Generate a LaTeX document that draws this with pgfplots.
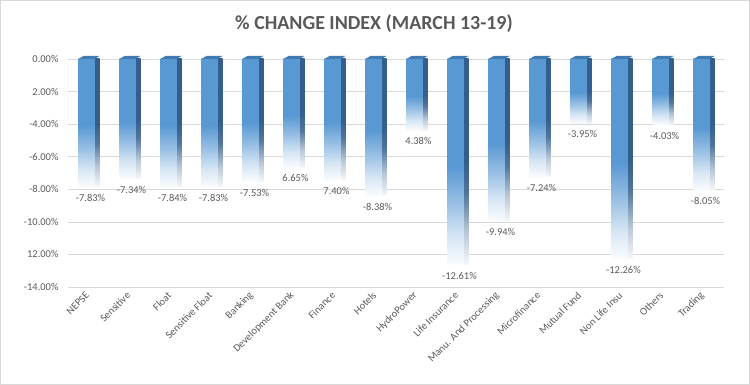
\documentclass[border=0pt]{standalone}
\usepackage{pgfplots}
\usepackage{pgfplotstable}
\pgfplotsset{compat=1.18}
\usepackage{fontspec}
\setmainfont{Carlito}
\definecolor{barblue}{RGB}{88,152,211}
\definecolor{sideblue}{RGB}{52,94,140}
\definecolor{capblue}{RGB}{66,122,178}
\definecolor{txtgray}{RGB}{89,89,89}
\definecolor{gridgray}{RGB}{217,217,217}
\pgfdeclareverticalshading{frontfade}{100bp}{color(0bp)=(barblue!3!white); color(25bp)=(barblue!3!white); color(32bp)=(barblue!25!white); color(40bp)=(barblue!62!white); color(49bp)=(barblue); color(100bp)=(barblue)}
\pgfdeclareverticalshading{sidefade}{100bp}{color(0bp)=(sideblue!5!white); color(25bp)=(sideblue!5!white); color(33bp)=(sideblue!35!white); color(42bp)=(sideblue!85!white); color(50bp)=(sideblue); color(100bp)=(sideblue)}
\pgfdeclareplotmark{barcap}{%
  \pgfpathmoveto{\pgfqpoint{-10bp}{0bp}}%
  \pgfpathlineto{\pgfqpoint{6bp}{0bp}}%
  \pgfpathlineto{\pgfqpoint{11bp}{3bp}}%
  \pgfpathlineto{\pgfqpoint{-5bp}{3bp}}%
  \pgfpathclose
  \pgfusepath{fill}}
\pgfplotstableread{
x v lab
0 -7.83 -7.83
1 -7.34 -7.34
2 -7.84 -7.84
3 -7.83 -7.83
4 -7.53 -7.53
5 -6.65 6.65
6 -7.40 7.40
7 -8.38 -8.38
8 -4.38 4.38
9 -12.61 -12.61
10 -9.94 -9.94
11 -7.24 -7.24
12 -3.95 -3.95
13 -12.26 -12.26
14 -4.03 -4.03
15 -8.05 -8.05
}\data
\begin{document}
\begin{tikzpicture}
\path[use as bounding box] (0,0) rectangle (750bp,385bp);
\draw[gridgray, line width=1bp] (0.5bp,0.5bp) rectangle (749.5bp,384.5bp);
\node[font=\fontsize{20}{24}\selectfont\bfseries, text=txtgray] at (374bp,361bp) {\% CHANGE INDEX (MARCH 13-19)};
\begin{axis}[
  at={(68bp,98bp)}, anchor=south west,
  scale only axis, width=656bp, height=228bp,
  xmin=-0.5, xmax=15.5, ymin=-14, ymax=0,
  axis line style={draw=none},
  major tick length=0pt,
  ymajorgrids, grid style={gridgray, line width=0.6bp},
  ytick={-14,-12,-10,-8,-6,-4,-2,0},
  yticklabels={-14.00\%,12.00\%,-10.00\%,-8.00\%,-6.00\%,-4.00\%,2.00\%,0.00\%},
  yticklabel style={font=\fontsize{10.5}{12}\selectfont, text=txtgray, xshift=-6bp},
  xtick={0,...,15},
  xticklabels={NEPSE,Sensitive,Float,Sensitive Float,Banking,Development Bank,Finance,Hotels,HydroPower,Life Insurance,{Manu. And Processing},Microfinance,Mutual Fund,Non Life Insu,Others,Trading},
  xticklabel style={font=\fontsize{10.5}{12}\selectfont, text=txtgray, rotate=45, anchor=east, xshift=-2bp, yshift=-4bp},
  clip=false,
]
\pgfplotsinvokeforeach{0,...,15}{
\addplot[ybar, bar width=5bp, bar shift=8.5bp, draw=none, shading=sidefade, shade,
  restrict x to domain=#1:#1] table[x=x, y=v] {\data};
\addplot[ybar, bar width=16bp, bar shift=-2bp, draw=none, shading=frontfade, shade,
  restrict x to domain=#1:#1,
  point meta=explicit symbolic, nodes near coords={\pgfplotspointmeta\%},
  every node near coord/.append style={font=\fontsize{10.5}{12}\selectfont, text=txtgray, anchor=north, yshift=-4bp, xshift=2bp, shading=, shade=false, fill=none}]
  table[x=x, y=v, meta=lab] {\data};
}
\addplot[only marks, mark=barcap, mark options={fill=capblue, draw=none}] table[x=x, y expr=0] {\data};
\end{axis}
\end{tikzpicture}
\end{document}
